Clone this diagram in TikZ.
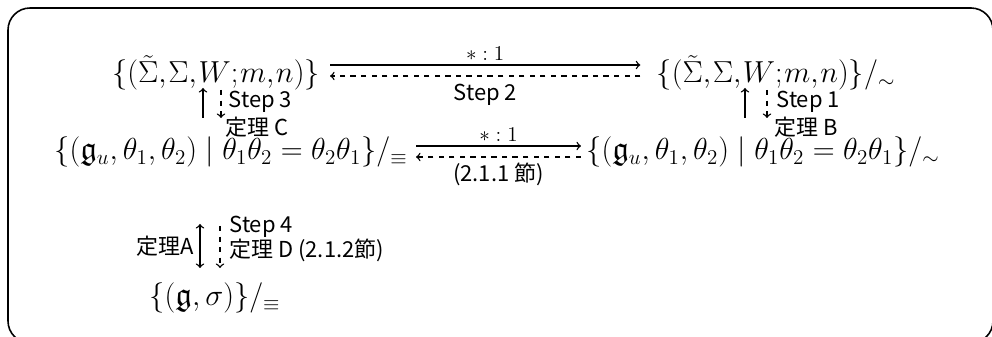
\documentclass[tikz,border=0pt]{standalone}
\usepackage{amsmath,amssymb}
\usepackage{fontspec}
\newfontfamily\jpfont{Noto Sans CJK JP}
\usetikzlibrary{positioning,calc}

\tikzset{
  setnode/.style={inner sep=0pt, font=\fontsize{16.5}{19}\selectfont},
  bigset/.style={inner sep=0pt, font=\fontsize{18.8}{22}\selectfont},
  lbl/.style={font=\jpfont\fontsize{12.5}{14}\selectfont, inner sep=1pt},
  ratio/.style={font=\fontsize{12.5}{14}\selectfont, inner sep=2pt},
  solidarr/.style={->, thick},
  dasharr/.style={->, thick, dashed},
}

\begin{document}
\begin{tikzpicture}[x=0.02cm, y=-0.02cm]
  \useasboundingbox (0,0) rectangle (992,337);
  \clip (0,0) rectangle (992,337);
  % frame
  \draw[line width=0.9pt, rounded corners=0.44cm] (8,8) rectangle (993,343);

  % the five sets
  \node[setnode] (tl) at (216,73) {$\thinmuskip=1mu \{(\tilde{\Sigma},\Sigma,W;m,n)\}$};
  \node[setnode] (tr) at (776,73) {$\thinmuskip=1mu \{(\tilde{\Sigma},\Sigma,W;m,n)\}/_{\sim}$};
  \node[bigset] (ml) at (231,152) {$\{(\mathfrak{g}_u,\theta_1,\theta_2)\mid\theta_1\theta_2=\theta_2\theta_1\}/_{\equiv}$};
  \node[bigset] (mr) at (763,152) {$\{(\mathfrak{g}_u,\theta_1,\theta_2)\mid\theta_1\theta_2=\theta_2\theta_1\}/_{\sim}$};
  \node[bigset] (bt) at (215,298) {$\{(\mathfrak{g},\sigma)\}/_{\equiv}$};

  % top row
  \draw[solidarr] ($(tl.east)+(10,-8)$) -- ($(tr.west)+(-16,-8)$)
    node[midway, above, ratio] {$*:1$};
  \draw[dasharr] ($(tr.west)+(-16,3)$) -- ($(tl.east)+(10,3)$)
    node[midway, below=3pt, lbl] {Step 2};

  % middle row
  \draw[solidarr] ($(ml.east)+(8,-6)$) -- ($(mr.west)+(-5,-6)$)
    node[midway, above, ratio] {$*:1$};
  \draw[dasharr] ($(mr.west)+(-5,5)$) -- ($(ml.east)+(8,5)$)
    node[midway, below=2pt, lbl] {(2.1.1 節)};

  % left column, upper
  \draw[solidarr] ($(ml.center)+(-28,-34)$) -- ($(tl.center)+(-13,15)$);
  \draw[dasharr] ($(tl.center)+(5,17)$) -- ($(ml.center)+(-10,-34)$)
    node[pos=0.43, right=3pt, lbl] {Step 3}
    node[pos=1.32, right=1pt, lbl] {定理 C};

  % right column
  \draw[solidarr] ($(mr.center)+(-18,-34)$) -- ($(tr.center)+(-31,15)$);
  \draw[dasharr] ($(tr.center)+(-9,17)$) -- ($(mr.center)+(4,-34)$)
    node[pos=0.43, right=4pt, lbl] {Step 1}
    node[pos=1.32, right=3pt, lbl] {定理 B};

  % left column, lower
  \draw[<->, thick] ($(ml.center)+(-31,72)$) -- ($(bt.center)+(-15,-30)$)
    node[midway, left=2pt, lbl] {定理A};
  \draw[dasharr] ($(ml.center)+(-11,74)$) -- ($(bt.center)+(5,-30)$)
    node[pos=0.02, right=4pt, lbl] {Step 4}
    node[pos=0.58, right=4pt, lbl] {定理 D (2.1.2節)};
\end{tikzpicture}
\end{document}
